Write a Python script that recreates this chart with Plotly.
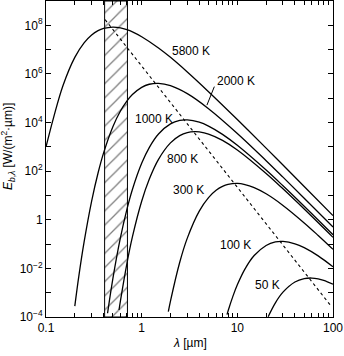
import numpy as np
import plotly.graph_objects as go

# ---- data ----
lam_5800 = [0.1, 0.12, 0.15, 0.2, 0.25, 0.3, 0.35, 0.4, 0.5, 0.6, 0.7, 0.8, 1, 1.5, 2, 3, 5, 10, 20, 30, 50, 100]
E_5800 = [1.0e3, 1.6e4, 3.2e5, 4.8e6, 1.9e7, 4.0e7, 6.0e7, 7.4e7, 8.4e7, 7.8e7, 6.6e7, 5.4e7, 3.4e7, 1.17e7, 4.8e6, 1.2e6, 1.86e5, 1.33e4, 886, 179, 23.5, 1.49]

lam_2000 = [0.2, 0.22, 0.25, 0.3, 0.35, 0.4, 0.5, 0.6, 0.7, 0.8, 1, 1.2, 1.5, 2, 3, 5, 10, 20, 30, 50, 100]
E_2000 = [2.8e-4, 4.6e-3, 0.12, 5.9, 84, 565, 6.75e3, 2.99e4, 7.66e4, 1.42e5, 2.81e5, 3.76e5, 4.11e5, 3.29e5, 1.54e5, 3.72e4, 3.55e3, 270, 56.8, 7.74, 0.502]

lam_1000 = [0.44, 0.5, 0.6, 0.7, 0.8, 1, 1.2, 1.5, 2, 2.5, 3, 4, 5, 7, 10, 20, 30, 50, 100]
E_1000 = [1.43e-4, 3.81e-3, 0.185, 2.63, 17.7, 211, 934, 3.37e3, 8.79e3, 1.22e4, 1.28e4, 1.03e4, 7.14e3, 3.27e3, 1.16e3, 111, 25.0, 3.59, 0.242]

lam_800 = [0.58, 0.6, 0.7, 0.8, 1, 1.2, 1.5, 2, 2.5, 3, 3.6, 4, 5, 7, 10, 20, 30, 50, 100]
E_800 = [1.94e-4, 4.62e-4, 0.0155, 0.197, 5.79, 46.5, 306, 1.45e3, 2.88e3, 3.85e3, 4.22e3, 4.12e3, 3.37e3, 1.85e3, 742, 80.2, 18.8, 2.77, 0.190]

lam_300 = [1.9, 2, 2.5, 3, 4, 5, 6, 7, 8, 10, 12, 15, 20, 30, 50, 70, 100]
E_300 = [1.65e-4, 4.5e-4, 0.0179, 0.176, 2.27, 8.17, 16.3, 23.6, 28.5, 31.2, 28.2, 21.0, 11.7, 3.90, 0.744, 0.226, 0.0608]

lam_100 = [7.8, 8, 9, 10, 12, 15, 20, 25, 30, 40, 50, 70, 100]
E_100 = [1.26e-4, 1.77e-4, 7.23e-4, 2.11e-3, 9.34e-3, 0.0337, 0.0879, 0.122, 0.128, 0.103, 0.0714, 0.0327, 0.0116]

lam_50 = [21, 25, 30, 40, 50, 60, 70, 80, 100]
E_50 = [1.03e-4, 3.84e-4, 1.05e-3, 2.75e-3, 3.80e-3, 4.01e-3, 3.71e-3, 3.22e-3, 2.23e-3]

# Wien displacement locus (dashed)
lam_wien = [0.415, 97]
E_wien = [1.7e8, 2.6e-4]

# visible band
band_lam = [0.41, 0.71]

curve_names = ["5800 K", "2000 K", "1000 K", "800 K", "300 K", "100 K", "50 K"]
curves = [(lam_5800, E_5800), (lam_2000, E_2000), (lam_1000, E_1000), (lam_800, E_800),
          (lam_300, E_300), (lam_100, E_100), (lam_50, E_50)]

x_tick_labels = ["0.1", "1", "10", "100"]
y_tick_labels = ["10<sup>−4</sup>", "", "10<sup>−2</sup>", "", "1", "", "10<sup>2</sup>", "",
                 "10<sup>4</sup>", "", "10<sup>6</sup>", "", "10<sup>8</sup>", ""]

FONT = "Liberation Sans, Arial, Helvetica, sans-serif"

fig = go.Figure()

# hatched visible band
fig.add_trace(go.Scatter(
    x=[band_lam[0], band_lam[0], band_lam[1], band_lam[1], band_lam[0]],
    y=[1e-4, 1e9, 1e9, 1e-4, 1e-4],
    mode="lines", fill="toself", fillcolor="white",
    fillpattern=dict(shape="/", size=10, solidity=0.13, fgcolor="black", bgcolor="white"),
    line=dict(color="black", width=1), hoverinfo="skip", showlegend=False))

for name, (lx, ey) in zip(curve_names, curves):
    fig.add_trace(go.Scatter(x=lx, y=ey, mode="lines", name=name,
                             line=dict(color="black", width=1.3, shape="spline", smoothing=1),
                             showlegend=False))

fig.add_trace(go.Scatter(x=lam_wien, y=E_wien, mode="lines",
                         line=dict(color="black", width=1.1, dash="3px,3px"), showlegend=False))

# x ticks: decades plus intermediate minor marks
xt_vals = []
xt_text = []
for i, d in enumerate([0.1, 1, 10]):
    for m in range(1, 10):
        xt_vals.append(d * m)
        xt_text.append(x_tick_labels[i] if m == 1 else "")
xt_vals.append(100)
xt_text.append(x_tick_labels[3])

yt_vals = [10.0 ** k for k in range(-4, 10)]

axis_common = dict(showline=True, linecolor="black", linewidth=1, mirror="ticks",
                   ticks="inside", tickcolor="black", showgrid=False, zeroline=False,
                   tickfont=dict(family=FONT, size=12, color="black"))

fig.update_xaxes(type="log", range=[-1, 2], tickvals=xt_vals, ticktext=xt_text,
                 ticklen=4, tickwidth=1, **axis_common)
fig.update_yaxes(type="log", range=[-4, 9], tickvals=yt_vals, ticktext=y_tick_labels,
                 ticklen=5, tickwidth=1, **axis_common)

# curve labels
labels = [("5800 K", 3.27, 8.7e6), ("2000 K", 9.6, 5.3e5), ("1000 K", 1.33, 1.46e4),
          ("800 K", 2.70, 317), ("300 K", 3.05, 16.1), ("100 K", 9.5, 0.093), ("50 K", 20.9, 2.0e-3)]
annos = []
for t, lx, ey in labels:
    annos.append(dict(x=np.log10(lx), y=np.log10(ey), xref="x", yref="y", text=t,
                      showarrow=False, font=dict(family=FONT, size=12, color="black"),
                      xanchor="center", yanchor="middle"))
# leader line for 2000 K
annos.append(dict(x=np.log10(4.81), y=np.log10(5.2e4), xref="x", yref="y", text="",
                  showarrow=True, arrowhead=0, arrowwidth=1, arrowcolor="black",
                  ax=8, ay=-20, standoff=0, startstandoff=0))
# axis titles
annos.append(dict(x=-0.13, y=0.54, xref="paper", yref="paper", textangle=-90,
                  text="<i>E</i><sub><i>b</i>,<i>λ</i></sub> [W/(m<sup>2</sup>·µm)]",
                  showarrow=False, font=dict(family=FONT, size=12, color="black"),
                  xanchor="center", yanchor="middle"))
annos.append(dict(x=0.502, y=-0.082, xref="paper", yref="paper",
                  text="<i>λ</i> [µm]", showarrow=False,
                  font=dict(family=FONT, size=12, color="black"),
                  xanchor="center", yanchor="middle"))

fig.update_layout(width=344, height=356, margin=dict(l=46, r=11, t=1, b=39),
                  paper_bgcolor="white", plot_bgcolor="white",
                  annotations=annos, font=dict(family=FONT, size=12, color="black"))

fig.write_html("out.html")
